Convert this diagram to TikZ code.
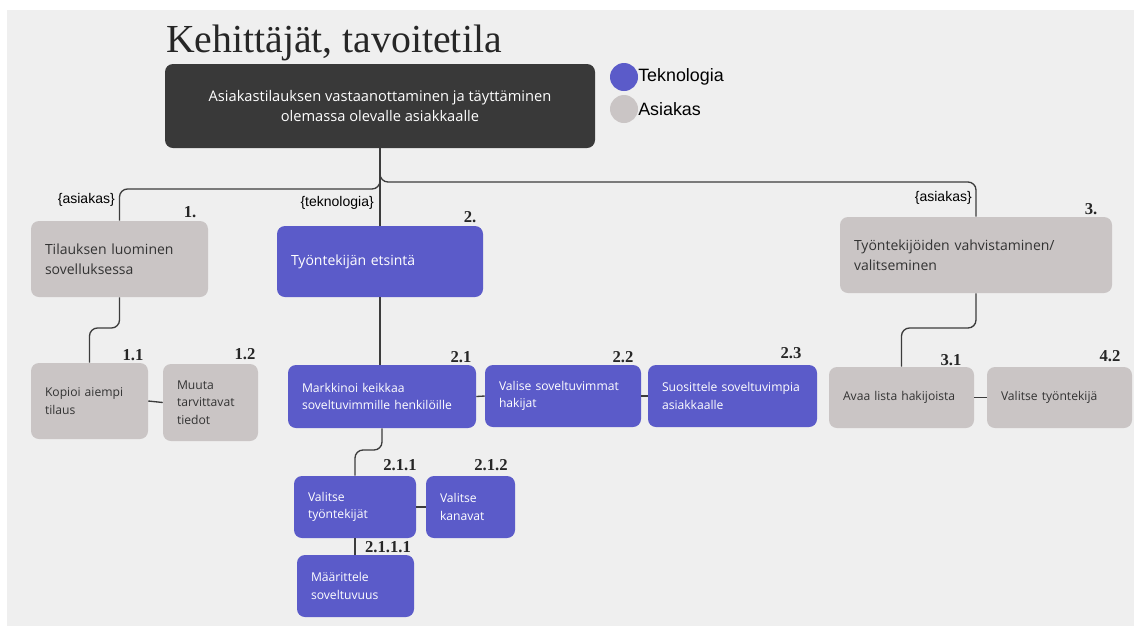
\documentclass[tikz,border=0pt]{standalone}
\usepackage{fontspec}
\setmainfont{Open Sans}
\newfontfamily\titlefont{Liberation Serif}
\newfontfamily\arialfont{Liberation Sans}
\usetikzlibrary{calc}
\definecolor{bg}{HTML}{EFEFEF}
\definecolor{tek}{HTML}{5B5BC9}
\definecolor{asi}{HTML}{CAC5C5}
\definecolor{rootc}{HTML}{393939}
\definecolor{linec}{HTML}{3C3C3C}
\definecolor{txtd}{HTML}{333333}
\begin{document}
\begin{tikzpicture}[x=0.75pt,y=-0.75pt,
  box/.style={rectangle, rounded corners=6pt, inner xsep=10.5pt, inner ysep=2pt, align=left,
              execute at begin node={\hyphenpenalty=10000\exhyphenpenalty=10000}},
  bw/.style 2 args={minimum width=#1*0.75pt, text width=(#1-28)*0.75pt, minimum height=#2*0.75pt},
  tekbox/.style={box, fill=tek, text=white},
  asibox/.style={box, fill=asi, text=txtd},
  bigtxt/.style={font=\fontsize{10.5}{15}\selectfont},
  smalltxt/.style={font=\fontsize{9.1}{13}\selectfont},
  num/.style={font=\titlefont\bfseries\fontsize{12.5}{14}\selectfont, text=black!85, inner sep=0pt},
  tag/.style={font=\arialfont\fontsize{10.5}{12}\selectfont, text=black, inner sep=0pt, anchor=east},
  conn/.style={draw=linec, line width=1pt, rounded corners=6pt},
  legdot/.style={circle, inner sep=0pt, minimum size=21pt},
  legtxt/.style={anchor=west, inner sep=0pt, font=\arialfont\fontsize{13.4}{15}\selectfont, text=black}
]
\useasboundingbox (0,0) rectangle (1134,626);
\fill[white] (0,0) rectangle (1134,626);
\fill[bg] (7,10) rectangle (1134,626);

% title
\node[anchor=base west, inner sep=0pt, font=\titlefont\fontsize{29.8}{34}\selectfont, text=black!85] (title) at (166,52) {Kehittäjät, tavoitetila};

% root
\node[rectangle, rounded corners=6pt, fill=rootc, text=white, align=center,
      minimum width=430*0.75pt, minimum height=84*0.75pt,
      font=\fontsize{11}{15}\selectfont] (root) at (380,106)
  {Asiakastilauksen vastaanottaminen ja täyttäminen\\olemassa olevalle asiakkaalle};

% legend
\node[legdot, fill=tek] (legT) at (624,77) {};
\node[legtxt] (legTt) at (638,77) {Teknologia};
\node[legdot, fill=asi] (legA) at (624,109) {};
\node[legtxt] (legAt) at (638,109) {Asiakas};

% level 1
\node[asibox, bigtxt, bw={177}{76}] (b1) at (119.5,259) {Tilauksen~luominen\\sovelluksessa};
\node[tekbox, bigtxt, bw={206}{71}] (b2) at (380,261.5) {Työntekijän~etsintä};
\node[asibox, bigtxt, bw={272}{76}] (b3) at (976,255) {Työntekijöiden~vahvistaminen/\\valitseminen};

% level 2
\node[asibox, smalltxt, bw={117}{76}] (b11) at (89.5,401) {Kopioi~aiempi\\tilaus};
\node[asibox, smalltxt, bw={95}{77}] (b12) at (210.5,402.5) {Muuta\\tarvittavat\\tiedot};
\node[tekbox, smalltxt, bw={188}{63}] (b21) at (382,396.5) {Markkinoi~keikkaa\\soveltuvimmille~henkilöille};
\node[tekbox, smalltxt, bw={156}{62}] (b22) at (563,396) {Valise~soveltuvimmat\\hakijat};
\node[tekbox, smalltxt, bw={169}{62}] (b23) at (732.5,396) {Suosittele~soveltuvimpia\\asiakkaalle};
\node[asibox, smalltxt, bw={145}{61}] (b31) at (901.5,397.5) {Avaa~lista~hakijoista};
\node[asibox, smalltxt, bw={145}{61}] (b42) at (1059.5,397.5) {Valitse~työntekijä};

% level 3
\node[tekbox, smalltxt, bw={122}{62}] (b211) at (355,507) {Valitse\\työntekijät};
\node[tekbox, smalltxt, bw={89}{62}] (b212) at (470.5,507) {Valitse\\kanavat};
\node[tekbox, smalltxt, bw={117}{62}] (b2111) at (355.5,586) {Määrittele\\soveltuvuus};

% numbers
\node[num] (n1) at (190,212) {1.};
\node[num] (n2) at (470,217) {2.};
\node[num] (n3) at (1091,209) {3.};
\node[num] (n11) at (133,355) {1.1};
\node[num] (n12) at (245,354) {1.2};
\node[num] (n21) at (461,357) {2.1};
\node[num] (n22) at (623,357) {2.2};
\node[num] (n23) at (791,353) {2.3};
\node[num] (n211) at (400,465) {2.1.1};
\node[num] (n212) at (491,465) {2.1.2};
\node[num] (n2111) at (388,547) {2.1.1.1};
\node[num] (n31) at (951,360) {3.1};
\node[num] (n42) at (1110,356) {4.2};

% tags
\node[tag] (tagA) at (115,200) {\{asiakas\}};
\node[tag] (tagT) at (374,203) {\{teknologia\}};
\node[tag] (tagR) at (972,198) {\{asiakas\}};

% connectors
\coordinate (jL) at (0,189);
\coordinate (jR) at (0,182);
\coordinate (j1) at (0,328);
\coordinate (j21) at (0,450);
\coordinate (j3) at (0,328);
\draw[conn] (root.south) |- (b1.north |- jL) -- (b1.north);
\draw[conn] (root.south) |- (b3.north |- jR) -- (b3.north);
\draw[conn] (root.south) -- (b2.north);
\draw[conn] (b1.south) |- (b11.north |- j1) -- (b11.north);
\draw[conn] (b2.south) -- (b2.south |- b21.north);
\draw[conn] (b21.south) |- (b211.north |- j21) -- (b211.north);
\draw[conn] (b211.south) -- (b211.south |- b2111.north);
\draw[conn] (b3.south) |- (b31.north |- j3) -- (b31.north);
\draw[conn] (b11.east) -- (b12.west);
\draw[conn] (b21.east) -- (b22.west);
\draw[conn] (b22.east) -- (b23.west);
\draw[conn] (b211.east) -- (b212.west);
\draw[conn] (b31.east) -- (b42.west);
\end{tikzpicture}
\end{document}
